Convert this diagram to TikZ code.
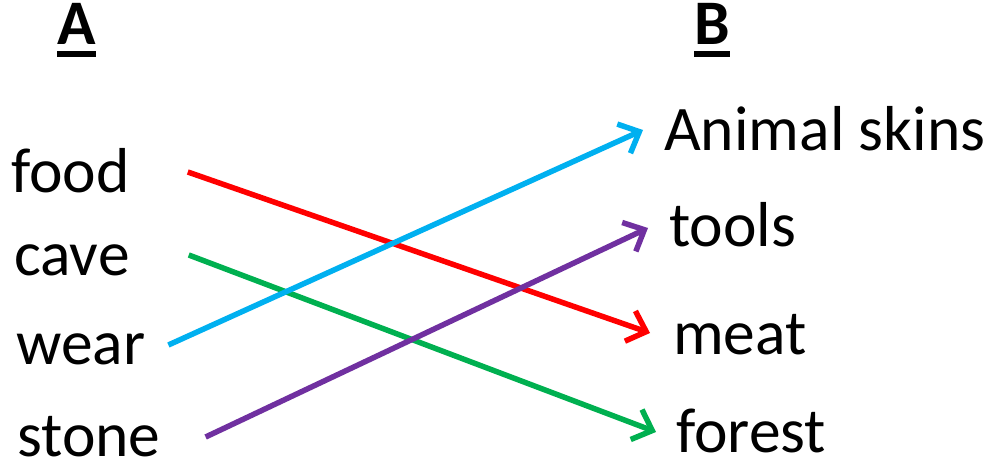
\documentclass[tikz,border=0pt]{standalone}
\usepackage{fontspec}
\setmainfont{Carlito}
\usetikzlibrary{arrows.meta}

\definecolor{linkred}{HTML}{FF0000}
\definecolor{linkgreen}{HTML}{00B050}
\definecolor{linkblue}{HTML}{00B0F0}
\definecolor{linkpurple}{HTML}{7030A0}

\tikzset{
  word/.style={inner sep=0pt, anchor=base west, font=\fontsize{63.5}{75}\selectfont},
  head/.style={word, font=\fontsize{63.5}{75}\selectfont\bfseries},
  link/.style={line width=5.5pt, -{Straight Barb[length=17pt, width=32pt, line width=5.5pt]}}
}

\begin{document}
\begin{tikzpicture}[x=1pt, y=1pt]
        \useasboundingbox (0,0) rectangle (990,465);
        % column headings
        \node[head] (headA) at (57,420) {A};
        \node[head] (headB) at (694,420) {B};
        \draw[line width=6pt] ([yshift=-9pt]headA.base west) -- ([yshift=-9pt]headA.base east);
        \draw[line width=6pt] ([yshift=-9pt]headB.base west) -- ([yshift=-9pt]headB.base east);
        % left words
        \node[word] (food) at (11,272) {food};
        \node[word] (cave) at (14,189) {cave};
        \node[word] (wear) at (16,100) {wear};
        \node[word] (stone) at (17,8) {stone};
        % right words
        \node[word] (skins) at (664,314) {Animal skins};
        \node[word] (tools) at (669,218) {tools};
        \node[word] (meat) at (673,110) {meat};
        \node[word] (forest) at (676,12) {forest};
        % matches
        \draw[link, linkred] ([shift={(58,21)}]food.base east) -- ([shift={(-23,22)}]meat.base west);
        \draw[link, linkgreen] ([shift={(59,21)}]cave.base east) -- ([shift={(-20,21)}]forest.base west);
        \draw[link, linkblue] ([shift={(23,20)}]wear.base east) -- ([shift={(-21,21)}]skins.base west);
        \draw[link, linkpurple] ([shift={(45,20)}]stone.base east) -- ([shift={(-21,19)}]tools.base west);
    \end{tikzpicture}
\end{document}
